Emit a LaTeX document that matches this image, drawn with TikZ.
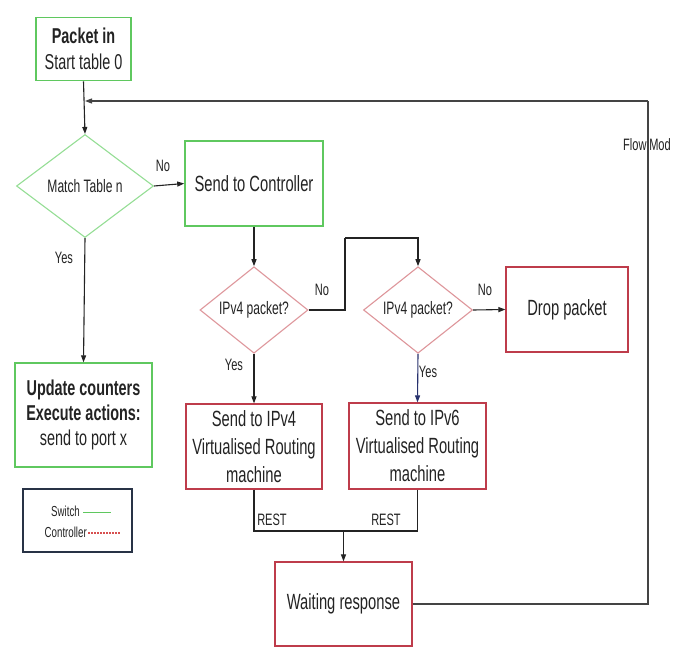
\documentclass[tikz,border=0pt]{standalone}
\usepackage{fontspec}
\setmainfont{Liberation Sans}[FakeStretch=0.67]
\usetikzlibrary{shapes.geometric,arrows.meta}
\definecolor{swgreen}{RGB}{95,200,95}
\definecolor{swgreenl}{RGB}{150,222,150}
\definecolor{ctred}{RGB}{190,60,75}
\definecolor{ctredl}{RGB}{222,150,155}
\definecolor{legred}{RGB}{215,80,80}
\definecolor{inkc}{RGB}{35,35,35}
\definecolor{navy}{RGB}{40,50,110}
\definecolor{legb}{RGB}{40,50,70}
\tikzset{
  swbox/.style={draw=swgreen,line width=1.6pt,rectangle,inner sep=2pt,align=center,text=inkc},
  ctbox/.style={draw=ctred,line width=1.2pt,rectangle,inner sep=2pt,align=center,text=inkc},
  swdia/.style={draw=swgreenl,line width=1.1pt,diamond,inner sep=0pt,align=center,text=inkc},
  ctdia/.style={draw=ctredl,line width=1.1pt,diamond,inner sep=0pt,align=center,text=inkc},
  conn/.style={draw=inkc,line width=1.1pt},
  arr/.style={conn,-{Triangle[length=7pt,width=5pt]}},
  lbl/.style={text=inkc,font=\fontsize{16.5}{18}\selectfont,inner sep=0pt},
  big/.style={font=\fontsize{22}{26}\selectfont},
  small/.style={font=\fontsize{18}{20}\selectfont}
}
\begin{document}
\begin{tikzpicture}[x=1pt,y=-1pt]
\useasboundingbox (0,0) rectangle (675,647);
\fill[white] (0,0) rectangle (675,647);
% nodes
\node[swbox,font=\fontsize{21.5}{26}\selectfont,minimum width=95pt,minimum height=63pt] (start) at (83.5,49) {\textbf{Packet in}\\Start table 0};
\node[swdia,small,minimum width=137pt,minimum height=103pt] (match) at (85,186) {Match Table n};
\node[swbox,big,minimum width=138pt,minimum height=85pt] (ctrl) at (254,183.5) {Send to Controller};
\node[swbox,font=\fontsize{21.5}{25}\selectfont,minimum width=137pt,minimum height=104pt,line width=1.3pt] (update) at (83.5,415) {\textbf{Update counters}\\\textbf{Execute actions:}\\send to port x};
\node[draw=legb,line width=1.1pt,rectangle,minimum width=109pt,minimum height=63pt] (legend) at (77.5,520.5) {};
\node[ctdia,small,minimum width=108pt,minimum height=84pt] (d1) at (254,310) {IPv4 packet?};
\node[ctdia,small,minimum width=109pt,minimum height=84pt] (d2) at (418,310) {IPv4 packet?};
\node[ctbox,big,minimum width=122pt,minimum height=85pt] (drop) at (567,309.5) {Drop packet};
\node[ctbox,minimum width=136pt,minimum height=85pt,font=\fontsize{22}{28}\selectfont] (v4) at (254,446.5) {Send to IPv4\\Virtualised Routing\\machine};
\node[ctbox,minimum width=137pt,minimum height=86pt,font=\fontsize{22}{28}\selectfont] (v6) at (417.5,446) {Send to IPv6\\Virtualised Routing\\machine};
\node[ctbox,big,minimum width=137pt,minimum height=84pt] (wait) at (343.5,604) {Waiting response};
% legend contents
\node[lbl,font=\fontsize{14.5}{16}\selectfont,anchor=east] (lsw) at (80,511) {Switch};
\node[lbl,font=\fontsize{14.5}{16}\selectfont,anchor=east] (lct) at (87,532) {Controller};
\coordinate (lswa) at (83,512);
\coordinate (lswb) at (111,512);
\coordinate (lcta) at (88,533);
\coordinate (lctb) at (120,533);
\draw[swgreen,line width=1pt] (lswa) -- (lswb);
\draw[legred,line width=1.1pt,dash pattern=on 2pt off 1pt] (lcta) -- (lctb);
% coordinates
\coordinate (fbL) at (85,101);
\coordinate (fbR) at (648,101);
\coordinate (j1) at (345,238);
\coordinate (jr) at (343.5,531);
% connectors
\draw[arr] (start.south) -- (match.north);
\draw[conn,draw=inkc!85] (wait.east) -| (fbR);
\draw[arr,draw=inkc!85] (fbR) -- (fbL);
\draw[arr] (match.east) -- (ctrl.west);
\draw[arr] (match.south) -- (update.north);
\draw[arr] (ctrl.south) -- (d1.north);
\draw[conn] (d1.east) -| (j1);
\draw[arr] (j1) -| (d2.north);
\draw[arr] (d2.east) -- (drop.west);
\draw[arr] (d1.south) -- (v4.north);
\draw[arr,draw=navy] (d2.south) -- (v6.north);
\draw[conn] (v4.south) |- (jr);
\draw[conn] (v6.south) |- (jr);
\draw[arr] (jr) -- (wait.north);
% labels
\node[lbl] (lno1) at (163,166) {No};
\node[lbl] (lyes1) at (64,258) {Yes};
\node[lbl] (lno2) at (322,290) {No};
\node[lbl] (lno3) at (485,290) {No};
\node[lbl] (lyes2) at (234,365) {Yes};
\node[lbl] (lyes3) at (428,372) {Yes};
\node[lbl] (lrest1) at (272,520) {REST};
\node[lbl] (lrest2) at (386,520) {REST};
\node[lbl] (lflow) at (647,145) {Flow\,Mod};
\end{tikzpicture}
\end{document}
